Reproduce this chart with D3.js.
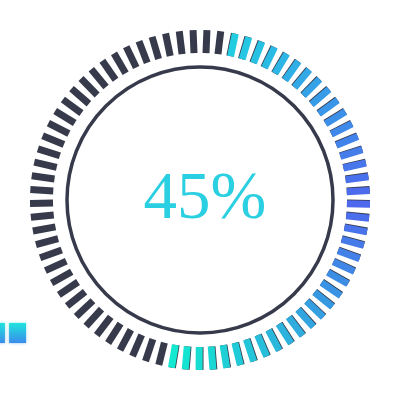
<!DOCTYPE html>
<html>
<head>
<meta charset="utf-8">
<script src="https://cdn.jsdelivr.net/npm/d3@7"></script>
<style>
  html, body { margin: 0; padding: 0; background: #fff; }
  #chart { width: 400px; height: 406px; }
</style>
</head>
<body>
<div id="chart"></div>
<script>
// values
const percent = 45;
const tickCount = 77;                 // ticks in the ring
const activeArc = [11, 190];          // coloured part of ring, degrees clockwise from top
const colourStops = [12, 90, 190];    // degrees
const colourValues = ["#22cde2", "#4f66ee", "#12ead0"];
const sideBars = ["a", "b"];          // small bars at lower left

const width = 400,
      height = 406,
      cx = 200,
      cy = 200;

let svg = d3.select("#chart")
    .append("svg")
    .attr("width", width)
    .attr("height", height);

let defs = svg.append("defs");

let grad = defs.append("linearGradient")
    .attr("id", "barGrad")
    .attr("x1", 0).attr("y1", 0).attr("x2", 0).attr("y2", 1);
grad.append("stop").attr("offset", "0%").attr("stop-color", "#1ee3de");
grad.append("stop").attr("offset", "100%").attr("stop-color", "#3b8ceb");

defs.append("filter")
    .attr("id", "glow")
    .attr("x", "-50%").attr("y", "-50%").attr("width", "200%").attr("height", "200%")
    .append("feGaussianBlur").attr("stdDeviation", 1.5);

// angle of each tick, one sits at the bottom
let angle = d3.scaleLinear()
    .domain([0, tickCount])
    .range([180, 540]);

let colour = d3.scaleLinear()
    .domain(colourStops)
    .range(colourValues)
    .interpolate(d3.interpolateRgb);

let ticks = d3.range(tickCount).map(i => {
    let a = angle(i) % 360;
    return { a: a, on: a >= activeArc[0] && a <= activeArc[1] };
});

let ring = svg.append("g")
    .attr("transform", `translate(${cx},${cy})`);

let rOuter = 170, rInner = 147, tickW = 7;

// dark background ticks
ring.selectAll(".bg")
    .data(ticks)
    .join("rect")
    .attr("class", "bg")
    .attr("x", -tickW / 2)
    .attr("y", -rOuter)
    .attr("width", tickW)
    .attr("height", rOuter - rInner)
    .attr("fill", "#363a4b")
    .attr("transform", d => `rotate(${d.a})`);

// coloured ticks on top, slightly turned
ring.selectAll(".fg")
    .data(ticks.filter(d => d.on))
    .join("rect")
    .attr("class", "fg")
    .attr("x", -tickW / 2)
    .attr("y", -rOuter)
    .attr("width", tickW)
    .attr("height", rOuter - rInner)
    .attr("fill", d => colour(d.a))
    .attr("transform", d => `rotate(${d.a + 0.3})`);

// inner circle
ring.append("circle")
    .attr("r", 133)
    .attr("fill", "none")
    .attr("stroke", "#363a4b")
    .attr("stroke-width", 3.5);

// centre label
svg.append("text")
    .attr("x", 205)
    .attr("y", 218)
    .attr("text-anchor", "middle")
    .style("font-family", "'Liberation Serif', 'Times New Roman', serif")
    .style("font-size", "67px")
    .style("fill", "#2bcfe2")
    .text(percent + "%");

// small bars at lower left (cut off by the edge)
let bx = d3.scaleBand()
    .domain(sideBars)
    .range([-12, 26])
    .paddingInner(0.2);

let side = svg.append("g");
[{ f: "url(#glow)", o: 0.6 }, { f: null, o: 1 }].forEach(s => {
    side.append("g")
        .attr("filter", s.f)
        .attr("opacity", s.o)
        .selectAll("rect")
        .data(sideBars)
        .join("rect")
        .attr("x", d => bx(d))
        .attr("y", 323)
        .attr("width", bx.bandwidth())
        .attr("height", 20)
        .attr("fill", "url(#barGrad)");
});
</script>
</body>
</html>
